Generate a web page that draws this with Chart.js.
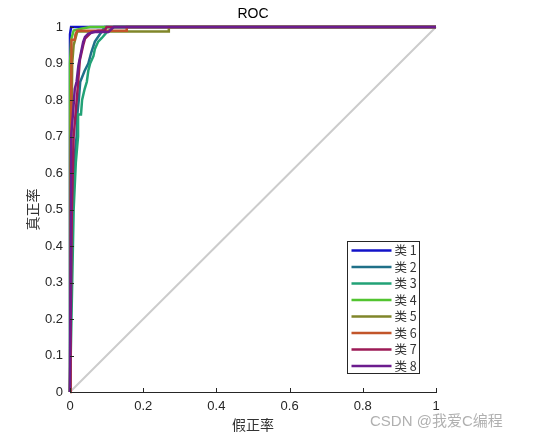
<!DOCTYPE html>
<html>
<head>
<meta charset="utf-8">
<script src="https://cdn.jsdelivr.net/npm/chart.js@4.4.0/dist/chart.umd.min.js"></script>
<style>
  body { margin: 0; background: #fff; }
</style>
</head>
<body>
<canvas id="roc" width="543" height="440"></canvas>
<script>
const classNames = ['类 1', '类 2', '类 3', '类 4', '类 5', '类 6', '类 7', '类 8'];
const classColors = ['#1212c8', '#1f7088', '#22a276', '#52c430', '#80862a', '#c2552a', '#9c1a56', '#6c1c8e'];

const fpr1 = [0, 0, 0, 0.003, 0.035, 1];
const tpr1 = [0, 0.6, 0.98, 1, 1, 1];
const fpr2 = [0, 0.003, 0.008, 0.013, 0.018, 0.02, 0.024, 0.028, 0.04, 0.05, 0.058, 0.068, 0.085, 0.095, 1];
const tpr2 = [0, 0.3, 0.55, 0.65, 0.7, 0.76, 0.8, 0.85, 0.88, 0.9, 0.93, 0.96, 0.985, 1, 1];
const fpr3 = [0, 0.005, 0.01, 0.016, 0.022, 0.022, 0.03, 0.033, 0.04, 0.046, 0.05, 0.055, 0.064, 0.068, 0.077, 0.087, 0.1, 0.114, 0.12, 1];
const tpr3 = [0, 0.25, 0.5, 0.63, 0.7, 0.76, 0.76, 0.8, 0.83, 0.85, 0.88, 0.9, 0.92, 0.94, 0.96, 0.97, 0.985, 0.995, 1, 1];
const fpr4 = [0, 0, 0.003, 0.01, 0.03, 0.055, 1];
const tpr4 = [0, 0.9, 0.965, 0.99, 0.995, 1, 1];
const fpr5 = [0, 0.003, 0.006, 0.01, 0.02, 0.27, 0.27, 1];
const tpr5 = [0, 0.6, 0.9, 0.95, 0.988, 0.988, 1, 1];
const fpr6 = [0, 0.002, 0.004, 0.013, 0.015, 0.02, 0.155, 0.155, 1];
const tpr6 = [0, 0.6, 0.965, 0.965, 0.98, 0.99, 0.99, 1, 1];
const fpr7 = [0, 0.005, 0.01, 0.015, 0.02, 0.023, 0.027, 0.036, 0.041, 0.05, 0.059, 0.077, 0.095, 0.1, 1];
const tpr7 = [0, 0.5, 0.7, 0.76, 0.82, 0.86, 0.91, 0.95, 0.968, 0.977, 0.986, 0.99, 0.99, 1, 1];
const fpr8 = [0, 0.003, 0.008, 0.013, 0.018, 0.023, 0.032, 0.036, 0.041, 0.05, 0.068, 0.105, 0.114, 0.12, 1];
const tpr8 = [0, 0.7, 0.76, 0.83, 0.85, 0.895, 0.94, 0.959, 0.973, 0.982, 0.986, 0.986, 0.995, 1, 1];
const diagX = [0, 1];
const diagY = [0, 1];

const fprs = [fpr1, fpr2, fpr3, fpr4, fpr5, fpr6, fpr7, fpr8];
const tprs = [tpr1, tpr2, tpr3, tpr4, tpr5, tpr6, tpr7, tpr8];

const toPoints = (xs, ys) => xs.map((x, i) => ({ x: x, y: ys[i] }));

const datasets = classNames.map((name, i) => ({
    label: name,
    data: toPoints(fprs[i], tprs[i]),
    borderColor: classColors[i],
    borderWidth: 2.5,
    pointRadius: 0,
    tension: 0,
    fill: false,
    clip: false,
    order: 8 - i
}));
datasets.push({
    label: 'diag',
    data: toPoints(diagX, diagY),
    borderColor: '#cccccc',
    borderWidth: 2,
    pointRadius: 0,
    fill: false,
    clip: false,
    order: 20
});

const textColor = '#262626';

// title over the plot area, inward tick marks, legend box and watermark
const extras = {
    id: 'extras',
    afterDraw(chart) {
        const c = chart.ctx;
        const xs = chart.scales.x;
        const ys = chart.scales.y;
        const area = chart.chartArea;
        c.save();

        c.font = '14px "Liberation Sans", Arial, sans-serif';
        c.fillStyle = '#000';
        c.textAlign = 'center';
        c.textBaseline = 'middle';
        c.fillText('ROC', (area.left + area.right) / 2, 14);
        c.textAlign = 'left';

        c.strokeStyle = textColor;
        c.lineWidth = 1;
        xs.ticks.forEach(t => {
            const px = Math.round(xs.getPixelForValue(t.value)) + 0.5;
            c.beginPath();
            c.moveTo(px, area.bottom);
            c.lineTo(px, area.bottom - 4);
            c.stroke();
        });
        ys.ticks.forEach(t => {
            const py = Math.round(ys.getPixelForValue(t.value)) + 0.5;
            c.beginPath();
            c.moveTo(area.left, py);
            c.lineTo(area.left + 4, py);
            c.stroke();
        });

        // legend
        const bx = 347.5, by = 241.5, bw = 72, bh = 132;
        c.fillStyle = '#ffffff';
        c.fillRect(bx, by, bw, bh);
        c.strokeStyle = '#262626';
        c.strokeRect(bx, by, bw, bh);
        c.font = '12.5px "Noto Sans CJK SC", sans-serif';
        c.textBaseline = 'middle';
        classNames.forEach((name, i) => {
            const ry = by + 9 + i * 16.5;
            c.strokeStyle = classColors[i];
            c.lineWidth = 2.5;
            c.beginPath();
            c.moveTo(bx + 4, ry);
            c.lineTo(bx + 44, ry);
            c.stroke();
            c.fillStyle = '#333';
            c.fillText(name, bx + 47, ry);
        });

        // watermark
        c.font = '15px "Liberation Sans", "Noto Sans CJK SC", sans-serif';
        c.fillStyle = 'rgba(150,150,150,0.75)';
        c.fillText('CSDN @我爱C编程', 370, 422);
        c.restore();
    }
};

Chart.defaults.font.family = "'Liberation Sans', Arial, sans-serif";
Chart.defaults.color = textColor;

// eslint-disable-next-line no-unused-vars
const rocChart = new Chart(document.getElementById('roc'), {
    type: 'line',
    data: { datasets: datasets },
    options: {
        responsive: false,
        animation: false,
        layout: {
            padding: { left: 0, right: 107, top: 27, bottom: 0 }
        },
        plugins: {
            legend: { display: false },
            tooltip: { enabled: false },
            title: { display: false }
        },
        scales: {
            x: {
                type: 'linear',
                min: 0,
                max: 1,
                afterFit: scale => { scale.height = 48; },
                grid: { display: false, drawTicks: false },
                border: { display: true, color: textColor, width: 1 },
                ticks: {
                    stepSize: 0.2,
                    padding: 7,
                    font: { size: 13 },
                    callback: v => String(Number(v.toFixed(1)))
                },
                title: {
                    display: true,
                    text: '假正率',
                    color: '#333',
                    font: { size: 14, family: "'Noto Sans CJK SC', sans-serif" },
                    padding: { top: 0, bottom: 7 }
                }
            },
            y: {
                type: 'linear',
                min: 0,
                max: 1,
                afterFit: scale => { scale.width = 70; },
                grid: { display: false, drawTicks: false },
                border: { display: true, color: textColor, width: 1 },
                ticks: {
                    stepSize: 0.1,
                    padding: 7,
                    font: { size: 13 },
                    callback: v => String(Number(v.toFixed(1)))
                },
                title: {
                    display: true,
                    text: '真正率',
                    color: '#333',
                    font: { size: 14, family: "'Noto Sans CJK SC', sans-serif" },
                    padding: { top: 24, bottom: 0 }
                }
            }
        }
    },
    plugins: [extras]
});
</script>
</body>
</html>
